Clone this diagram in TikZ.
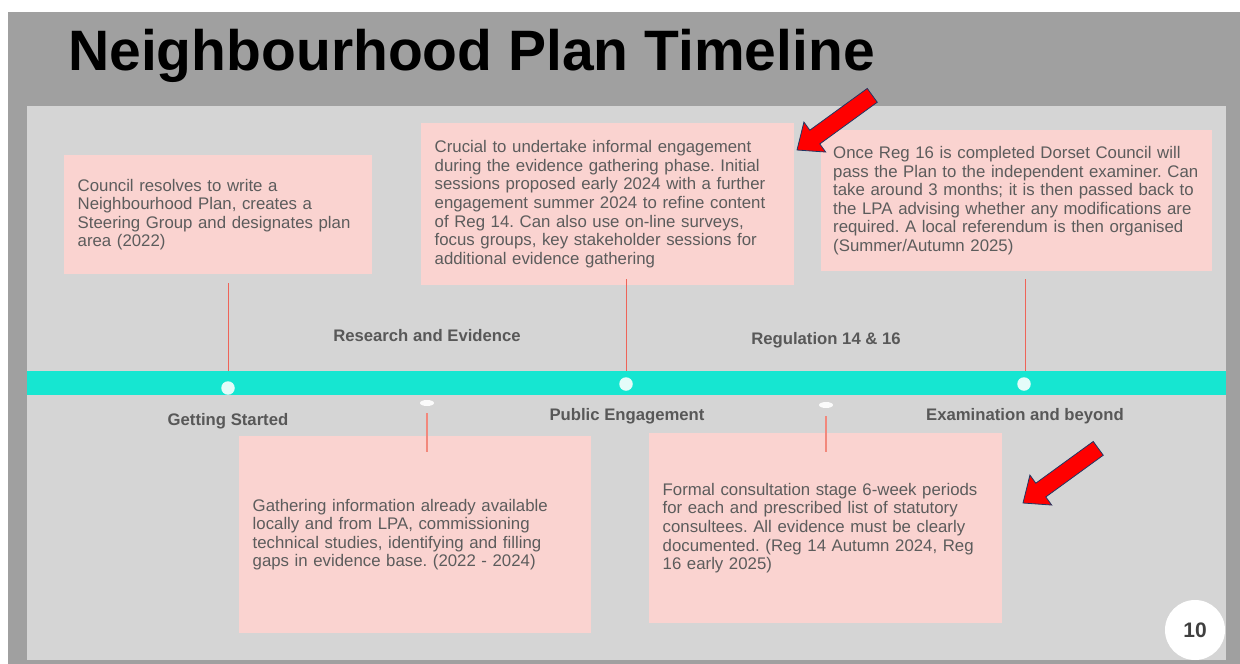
\documentclass[tikz,border=0pt]{standalone}
\usepackage{fontspec}
\setmainfont{Liberation Sans}
\usetikzlibrary{shapes.geometric}

\definecolor{slidegray}{RGB}{160,160,160}
\definecolor{panelgray}{RGB}{213,213,213}
\definecolor{notepink}{RGB}{250,211,208}
\definecolor{notetext}{RGB}{92,92,92}
\definecolor{phasetext}{RGB}{88,88,88}
\definecolor{bandteal}{RGB}{22,230,209}
\definecolor{dotcyan}{RGB}{228,252,249}
\definecolor{stemred}{RGB}{238,100,88}
\definecolor{stemsalmon}{RGB}{242,136,124}
\definecolor{arrowred}{RGB}{255,0,0}
\definecolor{arrownavy}{RGB}{32,56,100}
\definecolor{numgray}{RGB}{64,64,64}

\begin{document}
\begin{tikzpicture}[x=1pt, y=-1pt]
    \tikzset{
      notebox/.style={fill=notepink, text=notetext, anchor=north west, align=left,
        inner xsep=13.5pt, inner ysep=0pt, font=\fontsize{16.8}{18.6}\selectfont\frenchspacing},
      phase/.style={text=phasetext, anchor=base, inner sep=0pt,
        font=\fontsize{16.7}{20}\selectfont\bfseries},
      bigdot/.style={circle, fill=dotcyan, minimum size=13.5pt, inner sep=0pt},
      smalldot/.style={ellipse, fill=white!97!gray, minimum width=14pt, minimum height=6pt, inner sep=0pt},
      stem/.style={draw=stemred, line width=1pt},
      lowstem/.style={draw=stemsalmon, line width=1.5pt},
      redarrow/.pic={
        \filldraw[fill=arrowred, draw=arrownavy, line width=0.8pt, line join=miter]
          (0,0) -- (-22,18.5) -- (-22,8.5) -- (-93,8.5) -- (-93,-8.5) -- (-22,-8.5) -- (-22,-18.5) -- cycle;
      }
    }

    \useasboundingbox (0,0) rectangle (1240,664);
    \fill[white] (0,0) rectangle (1240,664);
    \fill[slidegray] (8,12) rectangle (1240,664);
    \fill[panelgray] (27,106) rectangle (1226,660);

    \draw node[anchor=base west, inner sep=0pt, font=\fontsize{57}{60}\selectfont\bfseries] (title) at (68,70) {Neighbourhood Plan Timeline};

    \draw node[notebox, text width=281pt, minimum height=119pt] (resolve) at (64,155)
      {Council resolves to write a\\Neighbourhood Plan, creates a\\Steering Group and designates plan\\area (2022)};
    \draw node[notebox, text width=346pt, minimum height=162pt] (informal) at (421,123)
      {Crucial to undertake informal engagement\\during the evidence gathering phase. Initial\\sessions proposed early 2024 with a further\\engagement summer 2024 to refine content\\of Reg 14. Can also use on-line surveys,\\focus groups, key stakeholder sessions for\\additional evidence gathering};
    \draw node[notebox, inner xsep=12pt, text width=367pt, minimum height=141pt] (examiner) at (821,130)
      {Once Reg 16 is completed Dorset Council will\\pass the Plan to the independent examiner. Can\\take around 3 months; it is then passed back to\\the LPA advising whether any modifications are\\required. A local referendum is then organised\\(Summer/Autumn 2025)};
    \draw node[notebox, text width=325pt, minimum height=197pt] (gather) at (239,436)
      {Gathering information already available\\locally and from LPA, commissioning\\technical studies, identifying and filling\\gaps in evidence base. (2022 - 2024)};
    \draw node[notebox, text width=326pt, minimum height=190pt] (formal) at (649,433)
      {Formal consultation stage 6-week periods\\for each and prescribed list of statutory\\consultees. All evidence must be clearly\\documented. (Reg 14 Autumn 2024, Reg\\16 early 2025)};

    \draw node[fill=bandteal, anchor=north west, minimum width=1199pt, minimum height=24pt, inner sep=0pt] (band) at (27,371) {};

    \coordinate (resolvestem) at (228,283);
    \coordinate (informalstem) at (626,279);
    \coordinate (examinerstem) at (1025,279);
    \draw[stem] (resolvestem) -- (resolvestem |- band.north);
    \draw[stem] (informalstem) -- (informalstem |- band.north);
    \draw[stem] (examinerstem) -- (examinerstem |- band.north);

    \draw node[bigdot] (started) at (228,388) {};
    \draw node[bigdot] (engage) at (626,384) {};
    \draw node[bigdot] (exam) at (1024,384) {};
    \draw node[smalldot] (research) at (427,403) {};
    \draw node[smalldot] (regulation) at (826,405) {};

    \draw[lowstem] ([yshift=-7pt]research.south) -- ++(0,39);
    \draw[lowstem] ([yshift=-8pt]regulation.south) -- ++(0,36);

    \draw node[phase] (startedlabel) at (228,425) {Getting Started};
    \draw node[phase] (researchlabel) at (427,341.5) {Research and Evidence};
    \draw node[phase] (engagelabel) at (627,420) {Public Engagement};
    \draw node[phase] (regulationlabel) at (826,344) {Regulation 14 \& 16};
    \draw node[phase] (examlabel) at (1025,420) {Examination and beyond};

    \pic[rotate=216] at (797,150) {redarrow};
    \pic[rotate=216] at (1023,503) {redarrow};

    \draw node[circle, fill=white, minimum size=60pt, inner sep=0pt, text=numgray,
      font=\fontsize{21}{24}\selectfont\bfseries] (pagenum) at (1195,630) {10};
  \end{tikzpicture}
\end{document}
